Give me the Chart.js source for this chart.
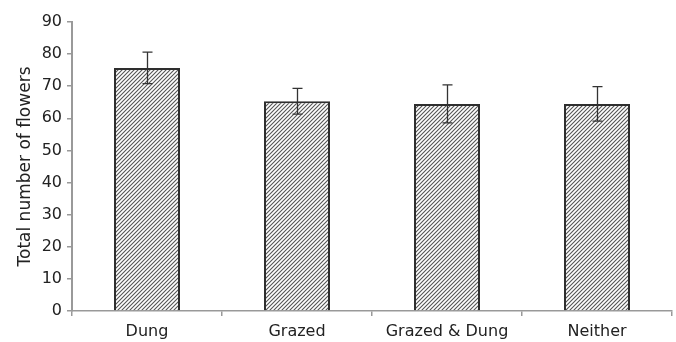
<!DOCTYPE html>
<html><head><meta charset="utf-8">
<script src="https://cdn.jsdelivr.net/npm/chart.js@4/dist/chart.umd.min.js"></script>
<style>html,body{margin:0;padding:0;background:#fff;}canvas{display:block;}</style>
</head><body>
<canvas id="c" width="676" height="342"></canvas>
<script>
const categories = ["Dung", "Grazed", "Grazed & Dung", "Neither"];
const flowerMeans = [75.7, 65.3, 64.5, 64.5];
const flowerErrors = [4.9, 4.0, 5.9, 5.4];
const yTicks = [0, 10, 20, 30, 40, 50, 60, 70, 80, 90];

const FONT = 'Verdana, "DejaVu Sans", sans-serif';

function hatch() {
  const s = 4;
  const p = document.createElement('canvas');
  p.width = s; p.height = s;
  const g = p.getContext('2d');
  g.fillStyle = '#fff'; g.fillRect(0, 0, s, s);
  g.strokeStyle = '#555'; g.lineWidth = 1.1;
  g.beginPath();
  g.moveTo(-1, s + 1); g.lineTo(s + 1, -1);
  g.moveTo(-1, 1); g.lineTo(1, -1);
  g.moveTo(s - 1, s + 1); g.lineTo(s + 1, s - 1);
  g.stroke();
  return document.getElementById('c').getContext('2d').createPattern(p, 'repeat');
}

const errorBars = {
  id: 'errorBars',
  afterDatasetsDraw(chart) {
    const ctx = chart.ctx;
    const meta = chart.getDatasetMeta(0);
    const y = chart.scales.y;
    ctx.save();
    ctx.strokeStyle = '#333'; ctx.lineWidth = 1.3;
    meta.data.forEach((bar, i) => {
      const x = Math.round(bar.x) + 0.5;
      const top = y.getPixelForValue(flowerMeans[i] + flowerErrors[i]);
      const bot = y.getPixelForValue(flowerMeans[i] - flowerErrors[i]);
      ctx.beginPath();
      ctx.moveTo(x, top); ctx.lineTo(x, bot);
      ctx.moveTo(x - 5, top); ctx.lineTo(x + 5, top);
      ctx.moveTo(x - 5, bot); ctx.lineTo(x + 5, bot);
      ctx.stroke();
    });
    ctx.restore();
  }
};

new Chart(document.getElementById('c'), {
  type: 'bar',
  data: {
    labels: categories,
    datasets: [{
      data: flowerMeans,
      backgroundColor: hatch(),
      borderColor: '#2e2e2e',
      borderWidth: 2,
      categoryPercentage: 1,
      barPercentage: 0.44
    }]
  },
  options: {
    responsive: false,
    animation: false,
    layout: { padding: { top: 22, right: 4, left: 0, bottom: 0 } },
    plugins: { legend: { display: false }, tooltip: { enabled: false } },
    scales: {
      x: {
        offset: true,
        afterFit(scale) { scale.height = 31; },
        grid: { display: true, offset: true, drawOnChartArea: false, drawTicks: true, tickLength: 5, color: '#999', lineWidth: 1.5 },
        border: { display: true, color: '#999', width: 1.5 },
        ticks: { color: '#222', font: { family: FONT, size: 16 }, padding: 6 }
      },
      y: {
        min: 0, max: 90,
        afterFit(scale) { scale.width = 72; },
        afterBuildTicks(scale) { scale.ticks = yTicks.map(v => ({ value: v })); },
        grid: { display: true, drawOnChartArea: false, drawTicks: true, tickLength: 5, color: '#999', lineWidth: 1.5 },
        border: { display: true, color: '#999', width: 2 },
        ticks: { color: '#222', font: { family: FONT, size: 16 }, padding: 5 },
        title: { display: true, text: 'Total number of flowers', color: '#222', font: { family: FONT, size: 17 }, padding: 15 }
      }
    }
  },
  plugins: [errorBars]
});
</script>
</body></html>
